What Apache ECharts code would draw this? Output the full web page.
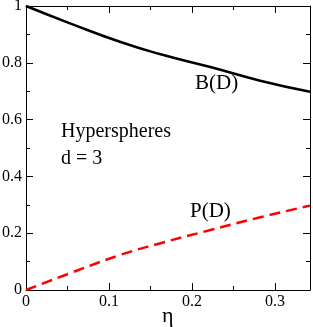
<!DOCTYPE html>
<html><head><meta charset="utf-8">
<script src="https://cdn.jsdelivr.net/npm/echarts@6/dist/echarts.min.js"></script>
<style>html,body{margin:0;padding:0;background:#fff}#c{width:313px;height:327px}</style>
</head><body><div id="c"></div>
<script>
var eta = [0, 0.053, 0.113, 0.161, 0.222, 0.282, 0.342];
var bD = [1, 0.939, 0.874, 0.831, 0.785, 0.737, 0.698];
var pD = [0, 0.059, 0.123, 0.164, 0.211, 0.256, 0.297];
var xTicks = [0, 0.1, 0.2, 0.3];
var yTicks = [0, 0.2, 0.4, 0.6, 0.8, 1];

var fam = '"Liberation Serif"';
function pairs(xs, ys){ return xs.map(function(x,i){return [x, ys[i]];}); }
function axisBase(show){
  return {
    axisLine:{show:true, onZero:false, lineStyle:{color:'#000', width:1}},
    axisTick:{show:true, inside:true, length:7, lineStyle:{color:'#000', width:1}},
    minorTick:{show:true, splitNumber:2, length:4, lineStyle:{color:'#000', width:1}},
    splitLine:{show:false},
    axisLabel:{show:show, color:'#000', fontFamily:fam, fontSize:16}
  };
}
var chart = echarts.init(document.getElementById('c'), null, {renderer:'canvas'});
chart.setOption({
  animation:false,
  textStyle:{fontFamily:fam},
  grid:{left:26, right:3, top:6, bottom:37, containLabel:false, outerBoundsMode:'none'},
  xAxis:[
    Object.assign({type:'value', min:0, max:0.342, interval:0.1, position:'bottom'}, axisBase(true),
      {axisLabel:{color:'#000', fontFamily:fam, fontSize:16, margin:4,
        showMaxLabel:false,
        formatter:function(v){var r=Math.round(v*10)/10; return xTicks.indexOf(r)>=0 ? String(r) : '';}}}),
    Object.assign({type:'value', min:0, max:0.342, interval:0.1, position:'top'}, axisBase(false))
  ],
  yAxis:[
    Object.assign({type:'value', min:0, max:1, interval:0.2, position:'left'}, axisBase(true),
      {axisLabel:{color:'#000', fontFamily:fam, fontSize:16, margin:4,
        formatter:function(v){var r=Math.round(v*10)/10; return yTicks.indexOf(r)>=0 ? String(r) : '';}}}),
    Object.assign({type:'value', min:0, max:1, interval:0.2, position:'right'}, axisBase(false))
  ],
  series:[
    {type:'line', name:'B(D)', data:pairs(eta,bD), smooth:0.5, showSymbol:false,
     lineStyle:{color:'#000', width:2.5}},
    {type:'line', name:'P(D)', data:pairs(eta,pD), smooth:0.5, showSymbol:false,
     lineStyle:{color:'#ff0000', width:2.5, type:[11,6]}}
  ],
  graphic:[
    {type:'text', left:61, top:122, style:{text:'Hyperspheres', fill:'#000', font:'20px ' + fam}},
    {type:'text', left:61, top:149, style:{text:'d = 3', fill:'#000', font:'20px ' + fam}},
    {type:'text', left:195, top:73, style:{text:'B(D)', fill:'#000', font:'21px ' + fam}},
    {type:'text', left:190, top:201, style:{text:'P(D)', fill:'#000', font:'21px ' + fam}},
    {type:'text', left:162, top:305, style:{text:'η', fill:'#000', font:'22px ' + fam}}
  ]
});
</script></body></html>
